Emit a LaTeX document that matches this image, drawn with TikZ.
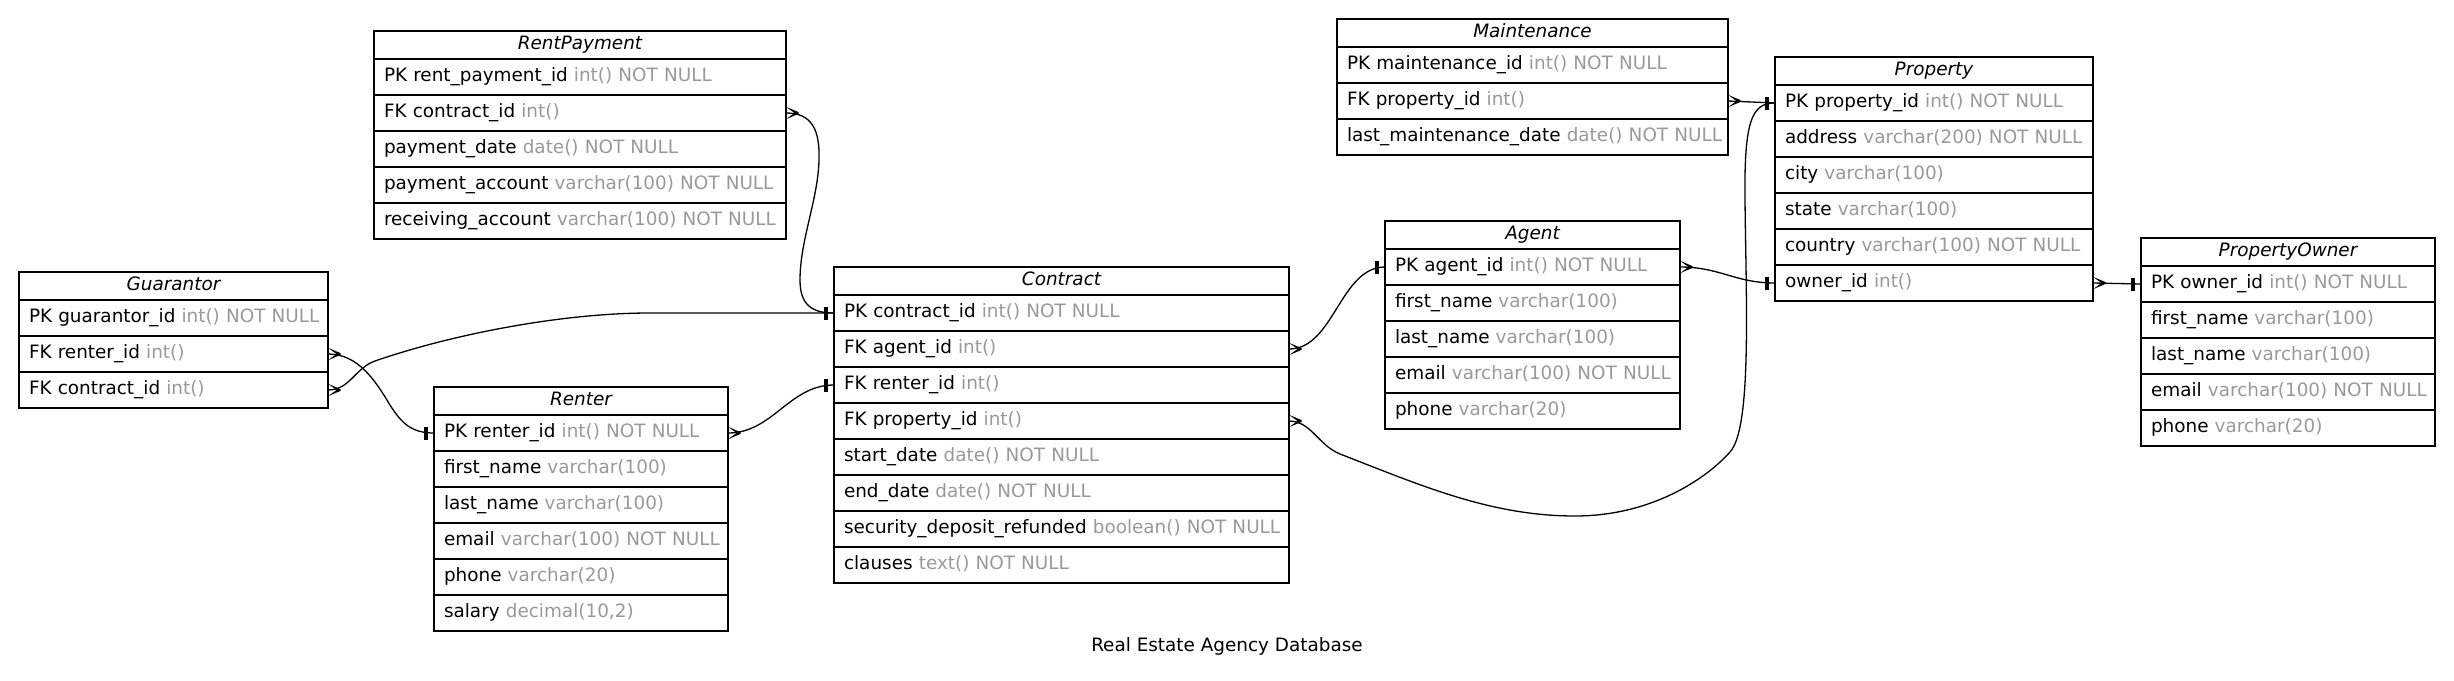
\documentclass[tikz,border=0pt]{standalone}
\usepackage{fontspec}
\setmainfont{DejaVu Sans}[ItalicFont={DejaVu Sans Oblique}]
\definecolor{typegray}{RGB}{153,153,153}
\newcommand\ty[1]{\textcolor{typegray}{#1}}
\newcommand\fs{\fontsize{18.4}{22}\selectfont}
\newcommand\etitle[5]{\pgfmathsetmacro\ERwd{#4-20}\node[tbltitle, text width=\ERwd pt] (#1) at (#2,#3) {#5};}
\newcommand\erow[5]{\pgfmathsetmacro\ERwd{#4-20}\node[tblrow, text width=\ERwd pt] (#1) at (#2,#3) {\mbox{#5}};}
\tikzset{
  tbltitle/.style={draw, line width=1.2pt, anchor=north west, outer sep=0pt, minimum height=28pt,
    inner xsep=10pt, inner ysep=0pt, align=center, text height=13pt, text depth=4pt, font=\fs\itshape},
  tblrow/.style={draw, line width=1.2pt, anchor=north west, outer sep=0pt, minimum height=36pt,
    inner xsep=10pt, inner ysep=0pt, align=left, text height=13.5pt, text depth=4.5pt, font=\fs},
  relation/.style={line width=1.3pt},
  crowfoot/.pic={\fill (0,6.2) -- (12.5,0.9) -- (12.5,-0.9) -- (0,-6.2) -- (8.5,0) -- cycle;},
  teebar/.pic={\fill (-10,-6.5) rectangle (-6,6.5);}
}
\begin{document}
\begin{tikzpicture}[x=1pt,y=-1pt]
\useasboundingbox (0,0) rectangle (2454,680);
% Guarantor
\etitle{g}{19}{272}{309}{Guarantor}
\erow{g-1}{19}{300}{309}{PK guarantor\_id \ty{int() NOT NULL}}
\erow{g-2}{19}{336}{309}{FK renter\_id \ty{int()}}
\erow{g-3}{19}{372}{309}{FK contract\_id \ty{int()}}
% RentPayment
\etitle{rp}{374}{31}{412}{RentPayment}
\erow{rp-1}{374}{59}{412}{PK rent\_payment\_id \ty{int() NOT NULL}}
\erow{rp-2}{374}{95}{412}{FK contract\_id \ty{int()}}
\erow{rp-3}{374}{131}{412}{payment\_date \ty{date() NOT NULL}}
\erow{rp-4}{374}{167}{412}{payment\_account \ty{varchar(100) NOT NULL}}
\erow{rp-5}{374}{203}{412}{receiving\_account \ty{varchar(100) NOT NULL}}
% Renter
\etitle{r}{434}{387}{294}{Renter}
\erow{r-1}{434}{415}{294}{PK renter\_id \ty{int() NOT NULL}}
\erow{r-2}{434}{451}{294}{first\_name \ty{varchar(100)}}
\erow{r-3}{434}{487}{294}{last\_name \ty{varchar(100)}}
\erow{r-4}{434}{523}{294}{email \ty{varchar(100) NOT NULL}}
\erow{r-5}{434}{559}{294}{phone \ty{varchar(20)}}
\erow{r-6}{434}{595}{294}{salary \ty{decimal(10,2)}}
% Contract
\etitle{c}{834}{267}{455}{Contract}
\erow{c-1}{834}{295}{455}{PK contract\_id \ty{int() NOT NULL}}
\erow{c-2}{834}{331}{455}{FK agent\_id \ty{int()}}
\erow{c-3}{834}{367}{455}{FK renter\_id \ty{int()}}
\erow{c-4}{834}{403}{455}{FK property\_id \ty{int()}}
\erow{c-5}{834}{439}{455}{start\_date \ty{date() NOT NULL}}
\erow{c-6}{834}{475}{455}{end\_date \ty{date() NOT NULL}}
\erow{c-7}{834}{511}{455}{security\_deposit\_refunded \ty{boolean() NOT NULL}}
\erow{c-8}{834}{547}{455}{clauses \ty{text() NOT NULL}}
% Agent
\etitle{a}{1385}{221}{295}{Agent}
\erow{a-1}{1385}{249}{295}{PK agent\_id \ty{int() NOT NULL}}
\erow{a-2}{1385}{285}{295}{first\_name \ty{varchar(100)}}
\erow{a-3}{1385}{321}{295}{last\_name \ty{varchar(100)}}
\erow{a-4}{1385}{357}{295}{email \ty{varchar(100) NOT NULL}}
\erow{a-5}{1385}{393}{295}{phone \ty{varchar(20)}}
% Maintenance
\etitle{m}{1337}{19}{391}{Maintenance}
\erow{m-1}{1337}{47}{391}{PK maintenance\_id \ty{int() NOT NULL}}
\erow{m-2}{1337}{83}{391}{FK property\_id \ty{int()}}
\erow{m-3}{1337}{119}{391}{last\_maintenance\_date \ty{date() NOT NULL}}
% Property
\etitle{p}{1775}{57}{318}{Property}
\erow{p-1}{1775}{85}{318}{PK property\_id \ty{int() NOT NULL}}
\erow{p-2}{1775}{121}{318}{address \ty{varchar(200) NOT NULL}}
\erow{p-3}{1775}{157}{318}{city \ty{varchar(100)}}
\erow{p-4}{1775}{193}{318}{state \ty{varchar(100)}}
\erow{p-5}{1775}{229}{318}{country \ty{varchar(100) NOT NULL}}
\erow{p-6}{1775}{265}{318}{owner\_id \ty{int()}}
% PropertyOwner
\etitle{po}{2141}{238}{294}{PropertyOwner}
\erow{po-1}{2141}{266}{294}{PK owner\_id \ty{int() NOT NULL}}
\erow{po-2}{2141}{302}{294}{first\_name \ty{varchar(100)}}
\erow{po-3}{2141}{338}{294}{last\_name \ty{varchar(100)}}
\erow{po-4}{2141}{374}{294}{email \ty{varchar(100) NOT NULL}}
\erow{po-5}{2141}{410}{294}{phone \ty{varchar(20)}}
% caption
\node[font=\fs, anchor=base, inner sep=0pt] (caption) at (1227,651) {Real Estate Agency Database};
% relations
\draw[relation] (rp-2.east) .. controls +(26,0) and (820,130) .. (819,160)
  .. controls (818,200) and (800,240) .. (800,280)
  .. controls (800,305) and (812,313) .. (c-1.west);
\draw[relation] (g-2.east) .. controls +(30,0) and (375,380) .. (390,405)
  .. controls (402,424) and (412,433) .. (r-1.west);
\draw[relation] (g-3.east) .. controls +(22,0) and (355,368) .. (375,361)
  .. controls (450,335) and (560,313) .. (650,313) -- (c-1.west);
\draw[relation] (r-1.east) .. controls +(45,0) and +(-45,0) .. (c-3.west);
\draw[relation] (c-2.east) .. controls +(45,0) and +(-45,0) .. (a-1.west);
\draw[relation] (a-1.east) .. controls +(40,0) and +(-40,0) .. (p-6.west);
\draw[relation] (m-2.east) -- (p-1.west);
\draw[relation] (p-6.east) -- (po-1.west);
\draw[relation] (c-4.east) .. controls +(22,0) and (1318,445) .. (1340,454)
  .. controls (1420,485) and (1490,516) .. (1575,516)
  .. controls (1650,516) and (1705,480) .. (1730,452)
  .. controls (1752,428) and (1746,300) .. (1745,200)
  .. controls (1744,120) and (1752,103) .. (p-1.west);
% crow's feet
\pic at (rp-2.east) {crowfoot};
\pic at (g-2.east) {crowfoot};
\pic at (g-3.east) {crowfoot};
\pic at (r-1.east) {crowfoot};
\pic at (c-2.east) {crowfoot};
\pic at (c-4.east) {crowfoot};
\pic at (a-1.east) {crowfoot};
\pic at (m-2.east) {crowfoot};
\pic at (p-6.east) {crowfoot};
% bars
\pic at (c-1.west) {teebar};
\pic at (r-1.west) {teebar};
\pic at (c-3.west) {teebar};
\pic at (a-1.west) {teebar};
\pic at (p-6.west) {teebar};
\pic at (p-1.west) {teebar};
\pic at (po-1.west) {teebar};
\end{tikzpicture}
\end{document}
